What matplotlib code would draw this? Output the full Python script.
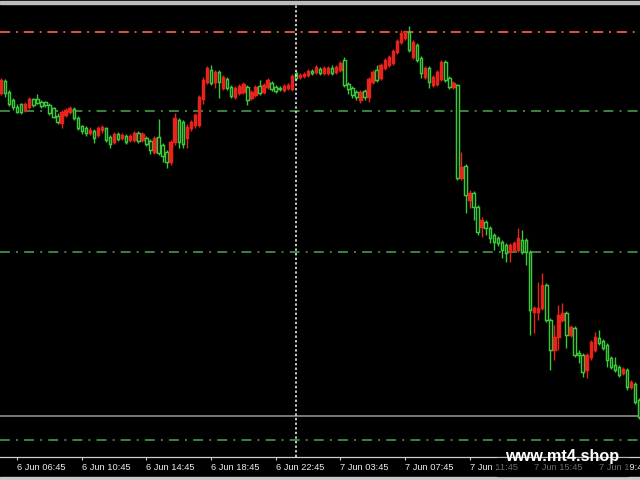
import numpy as np
import matplotlib
matplotlib.use("Agg")
from matplotlib import pyplot as plt
from matplotlib.patches import Rectangle

# 15 minute bars, 6 Jun 05:45 -> 7 Jun ~20:00
opens = [387, 399, 388, 380, 373, 376, 370, 373, 381, 381,
         378, 378, 375, 372, 364, 357, 365, 368, 371, 362,
         354, 352, 347, 349, 345, 350, 352, 343, 338, 346,
         342, 344, 340, 340, 347, 340, 342, 339, 328, 343,
         335, 328, 318, 338, 360, 358, 342, 352, 355, 355,
         381, 398, 410, 398, 408, 392, 401, 393, 383, 387,
         388, 393, 382, 385, 394, 388, 393, 397, 393, 392,
         390, 392, 391, 407, 403, 404, 405, 409, 408, 411,
         407, 407, 412, 408, 410, 420, 396, 392, 388, 380,
         389, 383, 398, 410, 402, 412, 415, 417, 428, 438,
         442, 448, 423, 435, 422, 403, 412, 395, 396, 401,
         418, 402, 393, 395, 302, 314, 280, 287, 273, 253,
         258, 252, 245, 242, 238, 235, 228, 230, 230, 240,
         240, 228, 168, 168, 172, 195, 160, 130, 143, 160,
         167, 145, 152, 127, 125, 110, 123, 130, 142, 139,
         135, 122, 115, 113, 107, 110, 93, 96, 80]
closes = [400, 387, 376, 373, 368, 368, 376, 381, 375, 377,
          374, 375, 367, 363, 358, 368, 370, 372, 362, 352,
          349, 347, 350, 342, 352, 353, 340, 336, 346, 341,
          345, 338, 344, 347, 339, 346, 336, 330, 342, 327,
          324, 318, 338, 362, 338, 336, 353, 358, 365, 383,
          400, 412, 397, 408, 398, 403, 392, 384, 392, 394,
          396, 380, 388, 393, 387, 395, 400, 391, 389, 391,
          394, 395, 404, 402, 405, 406, 409, 407, 413, 407,
          412, 412, 407, 413, 417, 395, 391, 385, 383, 388,
          383, 401, 408, 400, 415, 420, 423, 429, 439, 447,
          448, 430, 438, 420, 407, 412, 398, 403, 408, 418,
          400, 393, 397, 302, 313, 285, 287, 273, 248, 260,
          252, 242, 238, 237, 230, 227, 235, 237, 242, 228,
          228, 170, 172, 172, 195, 160, 130, 143, 165, 167,
          145, 153, 125, 125, 108, 125, 138, 143, 137, 132,
          120, 113, 110, 105, 111, 93, 98, 78, 63]
highs = [402, 401, 390, 382, 376, 377, 378, 383, 382, 386,
         380, 379, 377, 373, 367, 370, 372, 374, 373, 364,
         355, 354, 353, 351, 354, 355, 353, 345, 348, 348,
         347, 346, 346, 349, 349, 348, 344, 341, 344, 361,
         337, 330, 340, 367, 362, 360, 356, 360, 367, 385,
         403, 414, 415, 410, 410, 405, 403, 395, 394, 396,
         398, 395, 390, 395, 400, 397, 402, 399, 395, 394,
         396, 397, 406, 409, 407, 408, 411, 411, 415, 413,
         414, 414, 415, 415, 419, 423, 398, 394, 390, 390,
         391, 403, 410, 415, 417, 422, 425, 431, 441, 450,
         450, 454, 440, 437, 424, 414, 414, 405, 410, 420,
         420, 404, 399, 396, 328, 316, 290, 289, 275, 263,
         260, 254, 247, 244, 240, 237, 237, 239, 252, 250,
         242, 230, 174, 198, 207, 197, 162, 155, 175, 177,
         169, 155, 154, 130, 127, 127, 140, 148, 150, 141,
         137, 124, 123, 115, 113, 112, 100, 98, 82]
lows = [385, 383, 374, 370, 367, 366, 368, 371, 373, 376,
        372, 373, 365, 362, 356, 352, 363, 366, 360, 350,
        346, 344, 345, 337, 343, 347, 338, 332, 336, 339,
        340, 336, 338, 338, 337, 338, 334, 326, 326, 325,
        318, 312, 315, 335, 332, 332, 332, 349, 352, 353,
        376, 396, 395, 392, 382, 390, 390, 382, 381, 385,
        386, 375, 380, 383, 385, 386, 391, 389, 387, 389,
        388, 390, 389, 400, 401, 402, 403, 405, 406, 405,
        405, 405, 405, 406, 408, 393, 386, 382, 380, 377,
        380, 378, 396, 398, 400, 410, 413, 415, 426, 436,
        440, 428, 421, 418, 402, 401, 392, 393, 394, 399,
        398, 391, 391, 300, 300, 267, 272, 260, 245, 243,
        245, 237, 230, 234, 222, 218, 218, 228, 228, 226,
        215, 145, 147, 160, 170, 158, 110, 120, 130, 158,
        132, 143, 123, 117, 103, 102, 120, 128, 135, 130,
        113, 111, 108, 103, 105, 90, 91, 76, 61]

level_top = 448
levels_mid = [369, 228, 40]
level_gray = 64
cursor_bar = 73

tick_bars = [4, 20, 36, 52, 68, 84, 100, 116, 132, 148]
tick_labels = ["6 Jun 06:45", "6 Jun 10:45", "6 Jun 14:45", "6 Jun 18:45",
               "6 Jun 22:45", "7 Jun 03:45", "7 Jun 07:45", "7 Jun 11:45",
               "7 Jun 15:45", "7 Jun 19:45"]

up_col = "#e8231c"
down_col = "#3cc83c"

o = np.array(opens)
c = np.array(closes)
h = np.array(highs)
l = np.array(lows)
x = np.arange(len(o))
up = c >= o

fig = plt.figure(figsize=(6.4, 4.8), dpi=100, facecolor="black")
ax = fig.add_axes([0, 23 / 480, 1, 452 / 480], facecolor="black")

cols = np.where(up, up_col, down_col)
ax.vlines(x, l, h, colors=cols, linewidth=1.0, zorder=3)
bottoms = np.minimum(o, c)
heights = np.maximum(np.abs(c - o), 0.8)
faces = np.where(up, up_col, "black")
ax.bar(x, heights, bottom=bottoms, width=0.6, color=faces,
       edgecolor=cols, linewidth=1.05, zorder=4)

dd = (0, (5.2, 3.0, 1.0, 3.0))
ax.axhline(level_top, color="#e0553a", linewidth=1.4, linestyle=dd, zorder=2)
for lv in levels_mid:
    ax.axhline(lv, color="#4fa64f", linewidth=1.1, linestyle=(0, (6.5, 4.0, 1.3, 4.0)), zorder=2)
ax.axhline(level_gray, color="#9a9a9a", linewidth=1.1, zorder=2)
ax.axvline(cursor_bar, color="white", linewidth=1.1, linestyle=(0, (1.5, 1.5)), zorder=5)

ax.set_xlim(-0.25, 158.2)
ax.set_ylim(23, 475)

for s in ["top", "left", "right"]:
    ax.spines[s].set_visible(False)
ax.spines["bottom"].set_color("#cfcfcf")
ax.spines["bottom"].set_linewidth(0.9)
ax.set_yticks([])
ax.set_xticks(tick_bars)
ax.set_xticklabels(tick_labels, fontsize=6.7, family="Liberation Sans", color="#ececec")
ax.tick_params(axis="x", direction="out", length=2.5, width=0.8, color="#cfcfcf", pad=1.5)
for t in ax.get_xticklabels():
    t.set_ha("left")

# frame bands
fig.patches.append(Rectangle((0, 476 / 480), 1, 3 / 480, transform=fig.transFigure,
                             color="#bdbdbd", zorder=1))
fig.patches.append(Rectangle((0, 0), 1, 3 / 480, transform=fig.transFigure,
                             color="#c8c8c8", zorder=1))
# dim box under watermark
fig.patches.append(Rectangle((497 / 640, 4 / 480), 131 / 640, 18 / 480, transform=fig.transFigure,
                             color="black", alpha=0.55, zorder=2))
fig.text(562 / 640, 19 / 480, "www.mt4.shop", color="white", fontsize=11.7,
         fontweight="bold", family="Liberation Sans", ha="center", va="baseline", zorder=3)

fig.savefig("out.png", dpi=100, facecolor="black")
